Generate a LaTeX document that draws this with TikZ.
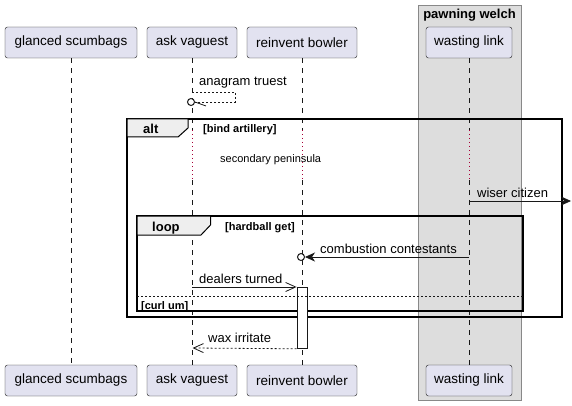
\documentclass[tikz,border=0pt]{standalone}
\usepackage{fontspec}
\setmainfont{Liberation Sans}
\usetikzlibrary{arrows.meta}
\definecolor{partfill}{HTML}{E2E2F0}
\definecolor{partline}{HTML}{181818}
\definecolor{groupfill}{HTML}{DDDDDD}
\definecolor{groupline}{HTML}{888888}
\definecolor{tabfill}{HTML}{EEEEEE}
\definecolor{delayred}{HTML}{A80036}
\begin{document}
\begin{tikzpicture}[x=1pt, y=-1pt,
    part/.style={draw=partline, fill=partfill, rounded corners=2.5pt, minimum height=31pt, inner sep=0pt, font=\fontsize{13.5}{15}\selectfont},
    life/.style={partline, line width=0.5pt, dash pattern=on 5pt off 5pt},
    delay/.style={delayred, line width=0.8pt, dash pattern=on 0.8pt off 3.2pt},
    msg/.style={anchor=base west, inner sep=0pt, font=\fontsize{13}{15}\selectfont},
    small/.style={anchor=base west, inner sep=0pt, font=\fontsize{11}{13}\selectfont},
    guard/.style={anchor=base west, inner sep=0pt, font=\bfseries\fontsize{11}{13}\selectfont},
    tablbl/.style={anchor=base west, inner sep=0pt, font=\bfseries\fontsize{13}{15}\selectfont},
    frm/.style={draw=black, line width=1.5pt},
    tab/.style={draw=black, line width=1pt, fill=tabfill},
    solidmsg/.style={partline, line width=0.8pt},
    dashmsg/.style={partline, line width=0.8pt, dash pattern=on 2pt off 2pt},
    openarr/.style={-{Straight Barb[length=10pt, width=9pt]}},
    fillarr/.style={-{Stealth[length=10pt, width=9pt, inset=3pt]}}
]
    \useasboundingbox (0,0) rectangle (572,406);

    % box round the last participant
    \draw[fill=groupfill, draw=groupline, line width=1pt] (418,6) rectangle (521,400);
    \node[tablbl, anchor=base] (pw) at (469.5,19) {pawning welch};

    % participants, top and bottom
    \node[part, minimum width=132pt] (gs) at (71,42.5) {glanced scumbags};
    \node[part, minimum width=90pt] (av) at (192,42.5) {ask vaguest};
    \node[part, minimum width=110pt] (rb) at (302,42.5) {reinvent bowler};
    \node[part, minimum width=86pt] (wl) at (469,42.5) {wasting link};
    \node[part, minimum width=132pt] (gs2) at (71,380.5) {glanced scumbags};
    \node[part, minimum width=90pt] (av2) at (192,380.5) {ask vaguest};
    \node[part, minimum width=110pt] (rb2) at (302,380.5) {reinvent bowler};
    \node[part, minimum width=86pt] (wl2) at (469,380.5) {wasting link};

    % lifelines, broken by the delay
    \coordinate (avd1) at (192,130);
    \coordinate (avd2) at (192,180);
    \coordinate (rbd1) at (302,130);
    \coordinate (rbd2) at (302,180);
    \coordinate (wld1) at (469,130);
    \coordinate (wld2) at (469,180);
    \draw[life] (gs) -- (gs2);
    \draw[life] (av) -- (avd1);
    \draw[life] (avd2) -- (av2);
    \draw[life] (rb) -- (rbd1);
    \draw[life] (rbd2) -- (rb2);
    \draw[life] (wl) -- (wld1);
    \draw[life] (wld2) -- (wl2);
    \draw[delay] (avd1) -- (avd2);
    \draw[delay] (rbd1) -- (rbd2);
    \draw[delay] (wld1) -- (wld2);

    % self message
    \coordinate (s1) at (192,92);
    \coordinate (s2) at (235,92);
    \coordinate (s3) at (235,102);
    \coordinate (s4) at (195,102);
    \draw[dashmsg] (s1) -- (s2) -- (s3) -- (s4);
    \draw[solidmsg] (s4) -- ++(11,4);
    \draw[partline, line width=1pt, fill=white] (191,102) circle (3.5pt);
    \node[msg] (m1) at (199,86) {anagram truest};

    % alt frame
    \node[small] (dl) at (220,163) {secondary peninsula};
    \draw[frm] (127,119) rectangle (562,317);
    \draw[tab] (127,119) -- (188,119) -- (188,128) -- (178,137) -- (127,137) -- cycle;
    \node[tablbl] (alt) at (143,134) {alt};
    \node[guard] (g1) at (203,133) {[bind artillery]};

    % message leaving to the right
    \coordinate (w1) at (469,201);
    \coordinate (w2) at (571,201);
    \draw[solidmsg, fillarr] (w1) -- (w2);
    \node[msg] (m2) at (477,197) {wiser citizen};

    % loop frame
    \draw[frm, line width=1.2pt] (137,216) rectangle (523,311);
    \draw[tab] (137,216) -- (210.5,216) -- (210.5,225) -- (201,235) -- (137,235) -- cycle;
    \node[tablbl] (loop) at (152,231) {loop};
    \node[guard] (g2) at (225,230) {[hardball get]};

    \coordinate (c1) at (469,257);
    \coordinate (c2) at (305,257);
    \draw[solidmsg, fillarr] (c1) -- (c2);
    \draw[partline, line width=1pt, fill=white] (301,257) circle (3.5pt);
    \node[msg] (m3) at (320,253) {combustion contestants};

    % activation
    \node[draw=partline, fill=white, line width=0.8pt, minimum width=10pt, minimum height=61pt, inner sep=0pt, anchor=north] (act) at (302,287) {};

    \coordinate (d1) at (192,287);
    \draw[solidmsg, openarr] (d1) -- (act.north west);
    \node[msg] (m4) at (199,283) {dealers turned};

    \draw[partline, line width=0.6pt, dash pattern=on 2pt off 2pt] (137,296.5) -- (523,296.5);
    \node[guard] (g3) at (141,309) {[curl um]};

    \coordinate (x1) at (192.5,348);
    \draw[dashmsg, openarr] (act.south west) -- (x1);
    \node[msg] (m5) at (208,342.5) {wax irritate};
\end{tikzpicture}
\end{document}
